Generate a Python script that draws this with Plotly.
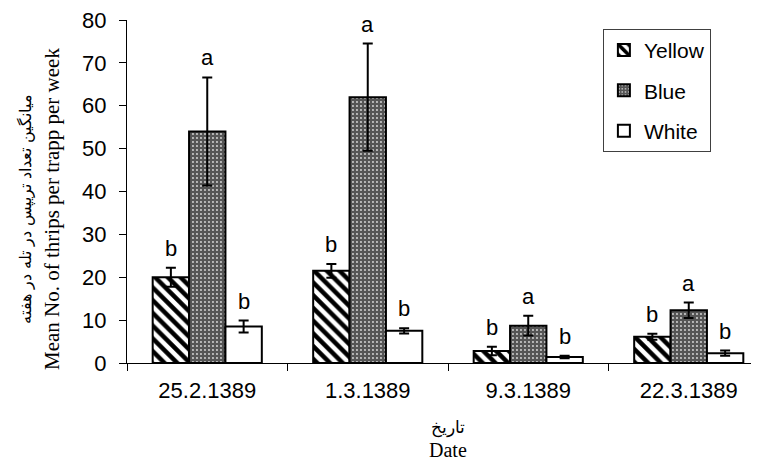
import plotly.graph_objects as go

dates = ["25.2.1389", "1.3.1389", "9.3.1389", "22.3.1389"]
series_names = ["Yellow", "Blue", "White"]
yellow_mean = [20.0, 21.5, 2.8, 6.1]
yellow_se = [2.2, 1.6, 1.0, 0.7]
blue_mean = [54.0, 62.0, 8.7, 12.3]
blue_se = [12.6, 12.5, 2.3, 1.8]
white_mean = [8.5, 7.5, 1.4, 2.3]
white_se = [1.4, 0.6, 0.3, 0.6]
yellow_letters = ["b", "b", "b", "b"]
blue_letters = ["a", "a", "a", "a"]
white_letters = ["b", "b", "b", "b"]
y_ticks = [0, 10, 20, 30, 40, 50, 60, 70, 80]

means = [yellow_mean, blue_mean, white_mean]
ses = [yellow_se, blue_se, white_se]
letters = [yellow_letters, blue_letters, white_letters]

patterns = [
    dict(shape="\\", fgcolor="black", bgcolor="white", size=9, solidity=0.5, fillmode="replace"),
    dict(shape=".", fgcolor="#d8d8d8", bgcolor="#555555", size=4, solidity=0.18, fillmode="replace"),
    None,
]
fills = ["white", "#555555", "white"]

BARGAP = 0.32
fig = go.Figure()
for i, name in enumerate(series_names):
    marker = dict(color=fills[i], line=dict(color="black", width=2))
    if patterns[i] is not None:
        marker["pattern"] = patterns[i]
    fig.add_trace(go.Bar(
        x=dates, y=means[i], name=name, marker=marker,
        error_y=dict(type="data", array=ses[i], color="black", thickness=2, width=5),
        legendgroup=name,
    ))

bw = (1 - BARGAP) / len(series_names)
annotations = []
for i in range(len(series_names)):
    off = (i - (len(series_names) - 1) / 2) * bw
    for j in range(len(dates)):
        annotations.append(dict(
            x=j + off, y=means[i][j] + ses[i][j], xref="x", yref="y",
            text=letters[i][j], showarrow=False, yanchor="bottom", yshift=5,
            font=dict(family="Liberation Sans, Arial", size=22, color="black"),
        ))

# axis titles
annotations.append(dict(
    x=-0.1187, y=0.449, xref="paper", yref="paper", xanchor="center", yanchor="middle",
    text="Mean No. of thrips per trapp per week", textangle=-90, showarrow=False,
    font=dict(family="Liberation Serif, Times New Roman", size=21, color="black"),
))
annotations.append(dict(
    x=-0.160, y=0.449, xref="paper", yref="paper", xanchor="center", yanchor="middle",
    text="میانگین تعداد تریپس در تله در هفته", textangle=-90, showarrow=False,
    font=dict(family="DejaVu Serif, Liberation Serif", size=15.5, color="black"),
))
annotations.append(dict(
    x=1.5, y=-0.188, xref="x", yref="paper", xanchor="center", yanchor="middle",
    text="تاریخ", showarrow=False,
    font=dict(family="DejaVu Serif, Liberation Serif", size=17, color="black"),
))
annotations.append(dict(
    x=1.5, y=-0.255, xref="x", yref="paper", xanchor="center", yanchor="middle",
    text="Date", showarrow=False,
    font=dict(family="Liberation Serif, Times New Roman", size=20, color="black"),
))

fig.update_layout(
    width=751, height=456,
    margin=dict(l=119, r=0, t=10, b=101),
    paper_bgcolor="white", plot_bgcolor="white",
    barmode="group", bargap=BARGAP, bargroupgap=0,
    showlegend=True,
    legend=dict(
        x=0.753, y=0.974, xref="paper", yref="paper", xanchor="left", yanchor="top",
        bordercolor="#404040", borderwidth=1, bgcolor="white",
        font=dict(family="Liberation Sans, Arial", size=21, color="black"),
        traceorder="grouped", tracegroupgap=10,
    ),
    xaxis=dict(
        type="category", range=[-0.5, 3.4377],
        showline=True, linecolor="black", linewidth=1,
        ticks="outside", tickson="boundaries", ticklen=7, tickcolor="black",
        ticklabelstandoff=8,
        tickfont=dict(family="Liberation Sans, Arial", size=22, color="black"),
        showgrid=False, zeroline=False,
    ),
    yaxis=dict(
        range=[0, 80], tickvals=y_ticks,
        showline=True, linecolor="black", linewidth=1,
        ticks="outside", ticklen=7, tickcolor="black",
        ticklabelstandoff=8, ticklabeloverflow="allow",
        tickfont=dict(family="Liberation Sans, Arial", size=22, color="black"),
        showgrid=False, zeroline=False,
    ),
    annotations=annotations,
)

fig.write_html("out.html")
